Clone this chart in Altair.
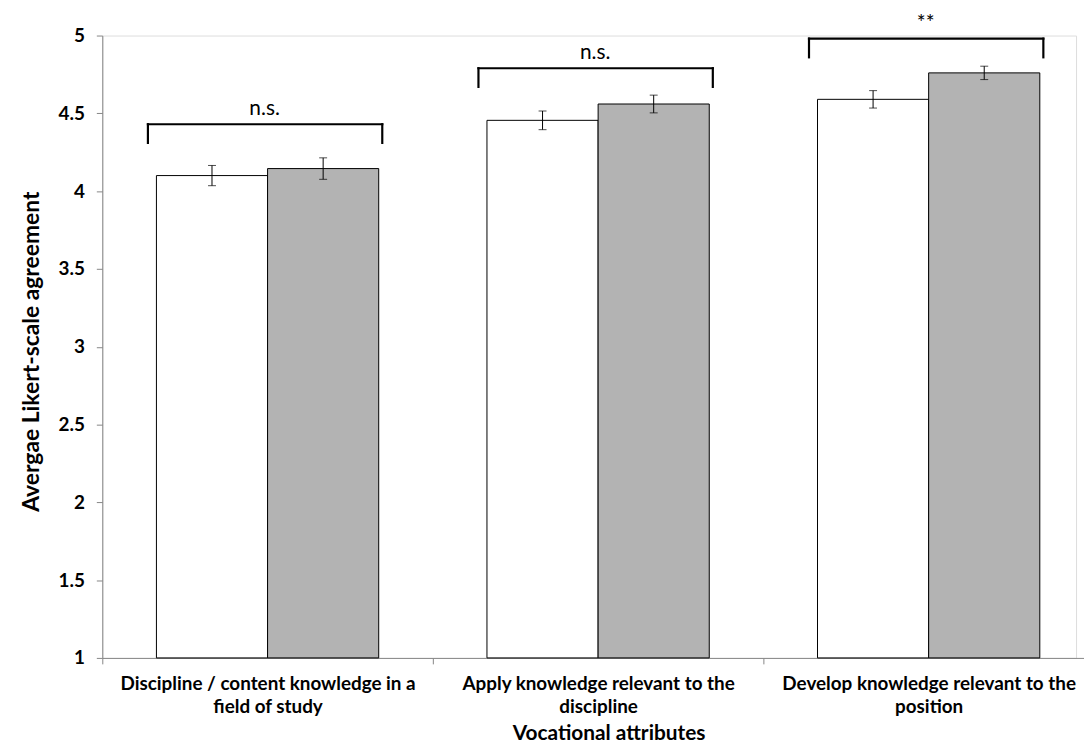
import altair as alt
import pandas as pd

# ---- data ----
categories = [
    "Discipline / content knowledge in a\nfield of study",
    "Apply knowledge relevant to the\ndiscipline",
    "Develop knowledge relevant to the\nposition",
]
groups = ["Series 1", "Series 2"]
means_1 = [4.10, 4.455, 4.59]
means_2 = [4.145, 4.56, 4.76]
err_1 = [0.065, 0.060, 0.056]
err_2 = [0.069, 0.057, 0.043]
bracket_top = [4.43, 4.79, 4.98]
bracket_leg = [4.31, 4.67, 4.86]
sig_labels = ["n.s.", "n.s.", "**"]
y_ticks = [1, 1.5, 2, 2.5, 3, 3.5, 4, 4.5, 5]

rows = []
for i, c in enumerate(categories):
    rows.append({"cat": c, "grp": groups[0], "mean": means_1[i], "err": err_1[i]})
    rows.append({"cat": c, "grp": groups[1], "mean": means_2[i], "err": err_2[i]})
bars_df = pd.DataFrame(rows)

br_df = pd.DataFrame({"cat": categories, "top": bracket_top, "leg": bracket_leg, "sig": sig_labels})

FONT = "Lato"

x_scale = alt.Scale(domain=categories, paddingInner=0, paddingOuter=0, range=[0, 999])
y_scale = alt.Scale(domain=[1, 5], nice=False, zero=False)
xo_scale = alt.Scale(domain=groups, paddingInner=0, paddingOuter=0.487)

x_axis = alt.Axis(
    title="Vocational attributes",
    labelAngle=0,
    labelExpr="split(datum.label, '\\n')",
    labelFont=FONT, labelFontWeight="bold", labelFontSize=19, labelColor="black",
    labelLineHeight=23, labelPadding=11, labelLimit=0,
    tickBand="extent", tickSize=6, tickColor="#868686",
    domainColor="#868686",
    titleFont=FONT, titleFontWeight="bold", titleFontSize=21, titleColor="black",
    titleX=510, titleY=76, titleBaseline="middle",
)
y_axis = alt.Axis(
    title="Avergae Likert-scale agreement",
    values=y_ticks, format="~g",
    labelFont=FONT, labelFontWeight="bold", labelFontSize=19, labelColor="black",
    labelPadding=12,
    tickSize=6, tickColor="#868686", domainColor="#868686", grid=False,
    titleFont=FONT, titleFontWeight="bold", titleFontSize=23, titleColor="black",
    titleX=-71, titleY=318, titleBaseline="middle", titleAngle=-90, titleAlign="center",
)

X = alt.X("cat:N", scale=x_scale, axis=x_axis, sort=categories)
XO = alt.XOffset("grp:N", scale=xo_scale, sort=groups)

bars = alt.Chart(bars_df).mark_bar(stroke="black", strokeWidth=1).encode(
    x=X,
    xOffset=XO,
    y=alt.Y("mean:Q", scale=y_scale, axis=y_axis),
    y2=alt.datum(1),
    fill=alt.Fill("grp:N", scale=alt.Scale(domain=groups, range=["white", "#b3b3b3"]), legend=None),
)

err_base = alt.Chart(bars_df).transform_calculate(
    lo="datum.mean - datum.err", hi="datum.mean + datum.err"
)
err_rule = err_base.mark_rule(color="black", strokeWidth=1).encode(
    x=alt.X("cat:N", sort=categories), xOffset=XO, y="lo:Q", y2="hi:Q"
)
cap_lo = err_base.mark_tick(color="black", thickness=1, size=8).encode(
    x=alt.X("cat:N", sort=categories), xOffset=XO, y="lo:Q"
)
cap_hi = err_base.mark_tick(color="black", thickness=1, size=8).encode(
    x=alt.X("cat:N", sort=categories), xOffset=XO, y="hi:Q"
)

B0, B1 = 0.138, 0.847
br_h = alt.Chart(br_df).mark_rule(color="black", strokeWidth=2.2, strokeCap="square").encode(
    x=alt.X("cat:N", sort=categories, bandPosition=B0),
    x2=alt.X2("cat:N", bandPosition=B1),
    y="top:Q",
)
br_l = alt.Chart(br_df).mark_rule(color="black", strokeWidth=2.2, strokeCap="square").encode(
    x=alt.X("cat:N", sort=categories, bandPosition=B0), y="top:Q", y2="leg:Q"
)
br_r = alt.Chart(br_df).mark_rule(color="black", strokeWidth=2.2, strokeCap="square").encode(
    x=alt.X("cat:N", sort=categories, bandPosition=B1), y="top:Q", y2="leg:Q"
)
sig_text = alt.Chart(br_df).mark_text(
    font=FONT, fontSize=21, color="black", baseline="alphabetic", dy=-9, dx=-3
).encode(
    x=alt.X("cat:N", sort=categories), y="top:Q", text="sig:N"
)

chart = alt.layer(bars, err_rule, cap_lo, cap_hi, br_h, br_l, br_r, sig_text).properties(
    width=981, height=627,
    autosize=alt.AutoSizeParams(type="none"),
    padding={"left": 95, "top": 25, "right": 8, "bottom": 87},
).configure_view(stroke=None).configure(background="white")

chart.save("out.html", embed_options={"renderer": "svg", "actions": False})
